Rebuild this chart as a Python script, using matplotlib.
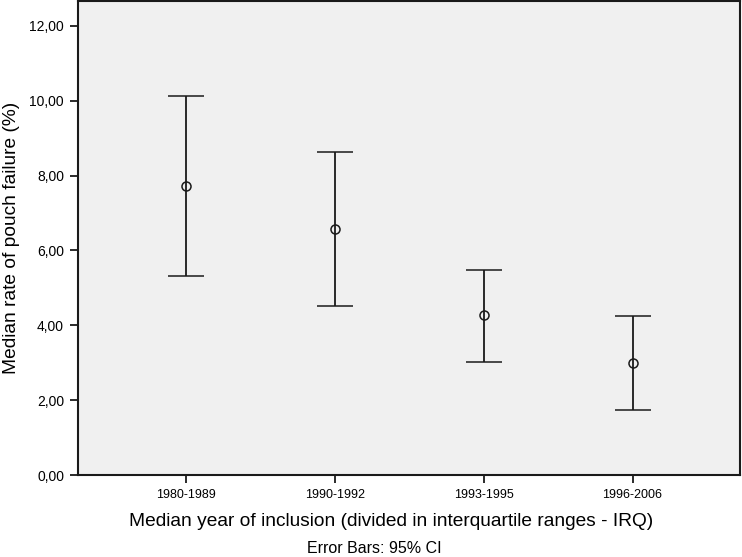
import matplotlib
matplotlib.use("Agg")
import matplotlib.pyplot as plt

plt.rcParams['font.family'] = ['Liberation Sans', 'DejaVu Sans']

# data
groups = ['1980-1989', '1990-1992', '1993-1995', '1996-2006']
median_rate = [7.72, 6.58, 4.27, 2.99]
ci_low = [5.31, 4.52, 3.02, 1.73]
ci_high = [10.13, 8.64, 5.49, 4.25]
y_ticks = [0, 2, 4, 6, 8, 10, 12]

x = list(range(len(groups)))
err_low = [m - lo for m, lo in zip(median_rate, ci_low)]
err_high = [hi - m for m, hi in zip(median_rate, ci_high)]

fig = plt.figure(figsize=(7.42, 5.57), dpi=100)
ax = fig.add_axes([0.105, 0.147, 0.892, 0.851])
ax.set_facecolor('#f0f0f0')

ax.errorbar(x, median_rate, yerr=[err_low, err_high], fmt='o', color='#1a1a1a',
            mfc='none', mec='#1a1a1a', markersize=6.5, mew=1.1,
            elinewidth=1.3, capsize=13.3, capthick=1.3)

ax.set_xlim(-0.723, 3.72)
ax.set_ylim(0, 12.66)
ax.set_xticks(x)
ax.set_xticklabels(groups, fontsize=9)
ax.set_yticks(y_ticks)
ax.set_yticklabels(['%d,00' % t for t in y_ticks], fontsize=10)
ax.tick_params(axis='both', length=6, width=1.3, color='#1a1a1a', pad=4)

for s in ax.spines.values():
    s.set_linewidth(1.5)
    s.set_color('#1a1a1a')

ax.set_ylabel('Median rate of pouch failure (%)', fontsize=13.8, labelpad=7)
fig.text(0.527, 0.063, 'Median year of inclusion (divided in interquartile ranges - IRQ)',
         ha='center', va='center', fontsize=13.8)
fig.text(0.505, 0.016, 'Error Bars: 95% CI', ha='center', va='center', fontsize=11.5)

fig.savefig('out.png', dpi=100)
